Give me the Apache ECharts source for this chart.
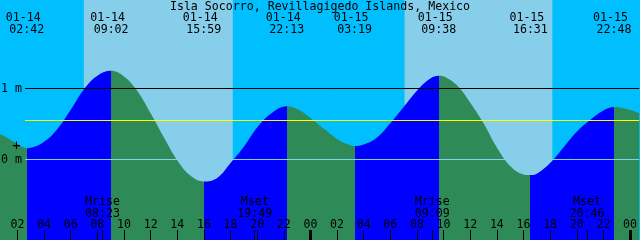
<!DOCTYPE html>
<html><head><meta charset="utf-8">
<script src="https://cdn.jsdelivr.net/npm/echarts@6/dist/echarts.min.js"></script>
<style>html,body{margin:0;padding:0;background:#00BFFF}#c{width:640px;height:240px}</style>
</head><body><div id="c"></div>
<script>
// ---------- data ----------
const titleText = 'Isla Socorro, Revillagigedo Islands, Mexico';
const baseDay = 14; // hours counted from 01-14 00:00
const windowStart = 0.6875;  // hours
const windowEnd = 48.6875;

const extremeDates   = ['01-14','01-14','01-14','01-14','01-15','01-15','01-15','01-15'];
const extremeClock   = ['02:42','09:02','15:59','22:13','03:19','09:38','16:31','22:48'];
const extremeHeights = [0.16, 1.25, -0.31, 0.75, 0.19, 1.18, -0.22, 0.74];

const sampleHours = [0.6875,1,2,3,4,5,6,7,8,10,11,12,13,14,15,17,18,19,20,21,23,24,
  25,26,27,28,29,30,31,32,33,34,35,36,37,38,39,40,41,42,43,44,45,46,48,48.6875];
const sampleHeights = [0.36,
  0.33,0.22,0.165,0.25,0.43,0.70,0.99,1.18,
  1.17,0.965,0.65,0.31,-0.01,-0.23,
  -0.26,-0.05,0.18,0.45,0.64,
  0.71,0.585,0.435,0.29,0.20,
  0.21,0.31,0.51,0.74,0.97,1.14,
  1.17,1.045,0.80,0.51,0.17,-0.09,-0.21,
  -0.20,-0.05,0.17,0.39,0.555,0.69,
  0.70,
  0.65];

const sunDates    = ['01-14','01-15'];
const sunriseClock = ['06:59','07:04'];
const sunsetClock  = ['18:10','18:10'];

const moonEvents = ['Mrise','Mset','Mrise','Mset'];
const moonDates  = ['01-14','01-14','01-15','01-15'];
const moonClock  = ['08:23','19:49','09:09','20:46'];

const tickHours = [2,4,6,8,10,12,14,16,18,20,22,24,26,28,30,32,34,36,38,40,42,44,46,48];
const midnightHours = [24,48];

const gridLevel = 1;      // '1 m'
const datumLevel = 0;     // '0 m'
const meanLevel = 0.549;  // yellow line

// ---------- helpers ----------
function toHours(date, clock){
  const d = parseInt(date.slice(3),10) - baseDay;
  const [h,m] = clock.split(':').map(Number);
  return d*24 + h + m/60;
}
const FONT = '"DejaVu Sans Mono", "Liberation Mono", monospace';
const FS = 11.6;
const NIGHT = '#00BFFF', DAY = '#87CEEB', RISE = '#0000FF', FALL = '#2E8B57';

const extremeHours = extremeDates.map((d,i)=>toHours(d, extremeClock[i]));
const pts = sampleHours.map((t,i)=>[t, sampleHeights[i]])
  .concat(extremeHours.map((t,i)=>[t, extremeHeights[i]]))
  .sort((a,b)=>a[0]-b[0]);

// colour pieces: rising blue, falling green
const pieces = [];
pieces.push({lt: extremeHours[0], color: extremeHeights[0] < sampleHeights[0] ? FALL : RISE});
for (let i=0;i<extremeHours.length-1;i++){
  pieces.push({gte: extremeHours[i], lt: extremeHours[i+1],
    color: extremeHeights[i+1] > extremeHeights[i] ? RISE : FALL});
}
const lastI = extremeHours.length-1;
pieces.push({gte: extremeHours[lastI], color: extremeHeights[lastI] > extremeHeights[lastI-1] ? FALL : RISE});

const dayAreas = sunDates.map((d,i)=>[{xAxis: toHours(d, sunriseClock[i])}, {xAxis: toHours(sunDates[i], sunsetClock[i])}]);
const moonHours = moonDates.map((d,i)=>toHours(d, moonClock[i]));

function levelLine(level, color, label){
  return [{coord:[windowStart, level], x: 25,
           lineStyle:{color: color, width:1, type:'solid'},
           label:{show: !!label, formatter: label || '', position:'start', distance:3,
                  color:'#000', fontFamily: FONT, fontSize: FS}},
          {coord:[windowEnd, level]}];
}

const chart = echarts.init(document.getElementById('c'), null, {renderer:'canvas'});
const axisBase = {type:'value', min: windowStart, max: windowEnd, position:'bottom', z: 10,
  axisLine:{show:false, onZero:false}, splitLine:{show:false}};

chart.setOption({
  animation:false,
  backgroundColor: NIGHT,
  title:{text: titleText, left:'center', top:1, padding:0,
    textStyle:{fontFamily: FONT, fontSize: FS, fontWeight:'normal', color:'#000'}},
  grid:{left:0,right:0,top:0,bottom:0, containLabel:false},
  xAxis:[
    Object.assign({}, axisBase, {
      axisTick:{show:true, inside:true, length:10, customValues: tickHours, lineStyle:{color:'#000', width:1}},
      axisLabel:{show:true, inside:true, margin:9, customValues: tickHours, color:'#000',
        fontFamily: FONT, fontSize: FS,
        formatter: v => String(Math.round(v)%24).padStart(2,'0')}
    }),
    Object.assign({}, axisBase, {
      axisTick:{show:true, inside:true, length:10, customValues: moonHours, lineStyle:{color:'#000', width:1}},
      axisLabel:{show:false}
    }),
    Object.assign({}, axisBase, {
      axisTick:{show:true, inside:true, length:10, customValues: midnightHours, lineStyle:{color:'#000', width:3}},
      axisLabel:{show:false}
    })
  ],
  yAxis:{type:'value', min: -80.5/71, max: 159.5/71, show:false},
  visualMap:{type:'piecewise', show:false, dimension:0, seriesIndex:2, pieces},
  series:[
    {type:'line', name:'daylight', data:[], z:1, silent:true,
     markArea:{silent:true, itemStyle:{color: DAY, opacity:1, borderWidth:0}, data: dayAreas}},
    {type:'line', name:'grid1m', data:[], z:2, silent:true,
     markLine:{silent:true, symbol:['none','none'], animation:false,
       lineStyle:{color:'#000', width:1, type:'solid'},
       data:[levelLine(gridLevel, '#000', '1 m')]}},
    {type:'line', name:'tide', data: pts, z:3, smooth:0.4, symbol:'none', silent:true,
     lineStyle:{width:0}, areaStyle:{opacity:1, origin:'start'}},
    {type:'line', name:'levels', data:[], z:4, silent:true,
     markLine:{silent:true, symbol:['none','none'], animation:false,
       lineStyle:{width:1, type:'solid'},
       data:[levelLine(meanLevel, '#FFFF00', null), levelLine(datumLevel, DAY, '0 m')]}},
    {type:'custom', name:'extremeLabels', z:6, silent:true,
     data: extremeHours.map(t=>[t, 0]),
     renderItem:(params, api)=>{
       const x = api.coord([api.value(0), 0])[0];
       const i = params.dataIndex;
       return {type:'group', children:[
         {type:'text', x: x-3.5, y: 17.5, style:{text: extremeDates[i], fill:'#000', font: FS+'px '+FONT, align:'center', verticalAlign:'middle'}},
         {type:'text', x: x, y: 29.5, style:{text: extremeClock[i], fill:'#000', font: FS+'px '+FONT, align:'center', verticalAlign:'middle'}}
       ]};
     }},
    {type:'custom', name:'moonLabels', z:6, silent:true,
     data: moonHours.map(t=>[t, 0]),
     renderItem:(params, api)=>{
       const x = api.coord([api.value(0), 0])[0];
       const i = params.dataIndex;
       return {type:'group', children:[
         {type:'text', x: x, y: 201.5, style:{text: moonEvents[i], fill:'#000', font: FS+'px '+FONT, align:'center', verticalAlign:'middle'}},
         {type:'text', x: x, y: 213.5, style:{text: moonClock[i], fill:'#000', font: FS+'px '+FONT, align:'center', verticalAlign:'middle'}}
       ]};
     }}
  ],
  graphic:[{type:'text', x:16.5, y:146.5, z:10, silent:true,
    style:{text:'+', fill:'#000', font:'14px '+FONT, align:'center', verticalAlign:'middle'}}]
});
</script></body></html>
